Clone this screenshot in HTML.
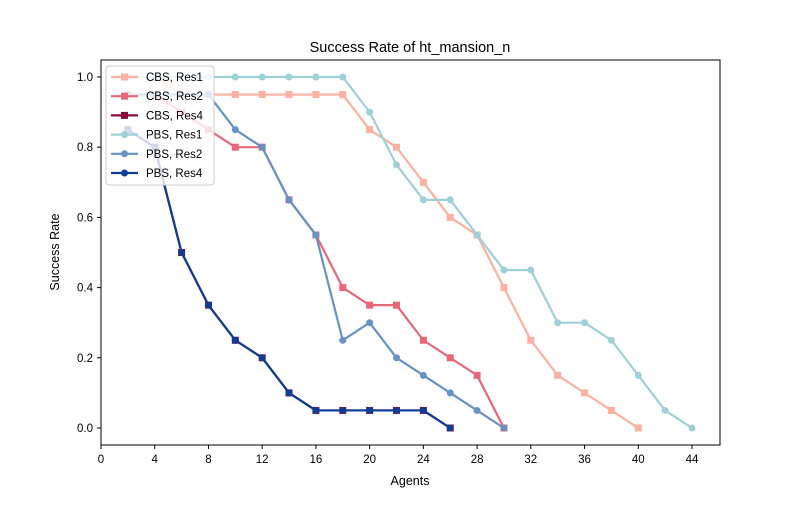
<!DOCTYPE html>
<html><head><meta charset="utf-8"><style>
body{margin:0;background:#fff}
svg text{font-family:"Liberation Sans","DejaVu Sans",sans-serif}
</style></head><body>
<svg id="chart" width="800" height="500">
<rect x="0" y="0" width="800" height="500" fill="#fff"/>
<text x="410" y="52" font-size="14.5" text-anchor="middle">Success Rate of ht_mansion_n</text>
<g id="grid"></g>
<g id="series"></g>
<rect x="101" y="60" width="619" height="385" fill="none" stroke="#000" stroke-width="1"/>
<g id="axes"></g>
<text x="410" y="485" font-size="12.5" text-anchor="middle">Agents</text>
<text x="59" y="252" font-size="12.5" text-anchor="middle" transform="rotate(-90 59 252)">Success Rate</text>
<g id="legend"></g>
</svg>
<script>
const xTicks=[0,4,8,12,16,20,24,28,32,36,40,44];
const yTicks=[0.0,0.2,0.4,0.6,0.8,1.0];
const names=["CBS, Res1","CBS, Res2","CBS, Res4","PBS, Res1","PBS, Res2","PBS, Res4"];
const cbs1X=[2,4,6,8,10,12,14,16,18,20,22,24,26,28,30,32,34,36,38,40];
const cbs1Y=[1,1,0.95,0.95,0.95,0.95,0.95,0.95,0.95,0.85,0.8,0.7,0.6,0.55,0.4,0.25,0.15,0.1,0.05,0];
const cbs2X=[2,4,6,8,10,12,14,16,18,20,22,24,26,28,30];
const cbs2Y=[0.95,0.95,0.9,0.85,0.8,0.8,0.65,0.55,0.4,0.35,0.35,0.25,0.2,0.15,0];
const cbs4X=[2,4,6,8,10,12,14,16,18,20,22,24,26];
const cbs4Y=[0.85,0.8,0.5,0.35,0.25,0.2,0.1,0.05,0.05,0.05,0.05,0.05,0];
const pbs1X=[2,4,6,8,10,12,14,16,18,20,22,24,26,28,30,32,34,36,38,40,42,44];
const pbs1Y=[1,1,1,1,1,1,1,1,1,0.9,0.75,0.65,0.65,0.55,0.45,0.45,0.3,0.3,0.25,0.15,0.05,0];
const pbs2X=[2,4,6,8,10,12,14,16,18,20,22,24,26,28,30];
const pbs2Y=[0.95,0.95,0.95,0.95,0.85,0.8,0.65,0.55,0.25,0.3,0.2,0.15,0.1,0.05,0];
const pbs4X=[2,4,6,8,10,12,14,16,18,20,22,24,26];
const pbs4Y=[0.85,0.8,0.5,0.35,0.25,0.2,0.1,0.05,0.05,0.05,0.05,0.05,0];
const colors=["#fdb1a2","#e8677a","#8b0a3c","#9fcfd7","#6692c4","#0d3d96"];
const markers=["s","s","s","o","o","o"];
const NS="http://www.w3.org/2000/svg";
const sx=v=>101+v*(591/44);
const sy=v=>428-v*351;
function mk(t,a,p){const e=document.createElementNS(NS,t);for(const k in a)e.setAttribute(k,a[k]);p.appendChild(e);return e;}
const axes=document.getElementById('axes');
xTicks.forEach(t=>{
 const l=mk('line',{x1:sx(t),x2:sx(t),y1:445,y2:449,stroke:'#000'},axes);
 
 
 const tx=mk('text',{x:sx(t),y:463,'font-size':11.5,'text-anchor':'middle'},axes);tx.textContent=t;
 
 
});
yTicks.forEach(t=>{
 const l=mk('line',{x1:97,x2:101,y1:sy(t),y2:sy(t),stroke:'#000'},axes);
 
 
 const tx=mk('text',{x:93,y:sy(t)+4,'font-size':11.5,'text-anchor':'end'},axes);tx.textContent=t.toFixed(1);
 
 
});
const S=document.getElementById('series');
const data=[[cbs1X,cbs1Y],[cbs2X,cbs2Y],[cbs4X,cbs4Y],[pbs1X,pbs1Y],[pbs2X,pbs2Y],[pbs4X,pbs4Y]];
function marker(g,m,x,y,c){
 if(m==='s') return mk('rect',{x:x-3.5,y:y-3.5,width:7,height:7,fill:c},g);
 return mk('circle',{cx:x,cy:y,r:3.5,fill:c},g);
}
data.forEach((d,i)=>{
 const g=mk('g',{},S);
 
 
 const pts=d[0].map((x,j)=>sx(x)+','+sy(d[1][j])).join(' ');
 const pl=mk('polyline',{points:pts,fill:'none',stroke:colors[i],'stroke-width':2.2,'stroke-linejoin':'round'},g);
 
 
 d[0].forEach((x,j)=>{
  const m=marker(g,markers[i],sx(x),sy(d[1][j]),colors[i]);
  
  
 });
});
const L=document.getElementById('legend');
const lb=mk('rect',{x:106,y:66,width:108,height:119,rx:3,fill:'#fff','fill-opacity':0.8,stroke:'#ccc'},L);


names.forEach((n,i)=>{
 const y=77+i*19.2;
 const g=mk('g',{},L);
 
 
 mk('line',{x1:111,x2:138,y1:y,y2:y,stroke:colors[i],'stroke-width':2.2},g);
 marker(g,markers[i],124.5,y,colors[i]);
 const t=mk('text',{x:146,y:y+4,'font-size':11.5},g);t.textContent=n;
});
</script>
</body></html>
